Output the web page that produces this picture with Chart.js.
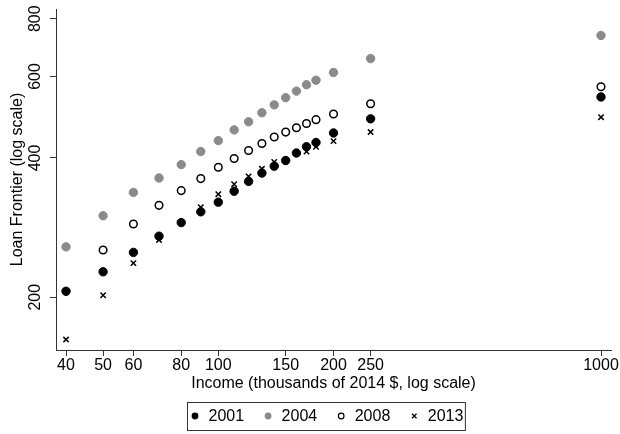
<!DOCTYPE html>
<html>
<head>
<meta charset="utf-8">
<script src="https://cdn.jsdelivr.net/npm/chart.js@4/dist/chart.umd.min.js"></script>
<style>
    html, body { margin: 0; padding: 0; background: #fff; }
    #wrap { width: 620px; height: 434px; }
</style>
</head>
<body>
<div id="wrap"><canvas id="chart" width="620" height="434"></canvas></div>
<script>
// --- DATA ---
const incomes = [40, 50, 60, 70, 80, 90, 100, 110, 120, 130, 140, 150, 160, 170, 180, 200, 250, 1000];
const frontier2001 = [206, 227, 250, 271, 290, 306, 321, 339, 356, 371, 384, 395, 410, 423, 432, 453, 486, 542];
const frontier2004 = [257, 300, 337, 362, 387, 413, 436, 460, 479, 501, 521, 540, 558, 576, 589, 612, 656, 736];
const frontier2008 = [null, 253, 288, 316, 340, 361, 382, 399, 415, 430, 444, 455, 465, 475, 484, 498, 524, 570];
const frontier2013 = [162, 202, 237, 266, 290, 313, 334, 351, 365, 379, 392, 395, 409, 413, 423, 435, 455, 490];
const xTicks = [40, 50, 60, 80, 100, 150, 200, 250, 1000];
const yTicks = [200, 400, 600, 800];

const FONT = "'Liberation Sans', Arial, sans-serif";
const GRAY = '#8a8a8a';
const AXIS = '#333';

function toPoints(ys) {
    return incomes.map((x, i) => ({ x: x, y: ys[i] })).filter(p => p.y !== null);
}

const series = [
    { label: '2001', data: frontier2001, style: 'circle', fill: '#000', stroke: '#000', radius: 4.2, width: 1 },
    { label: '2004', data: frontier2004, style: 'circle', fill: GRAY, stroke: GRAY, radius: 4.2, width: 1 },
    { label: '2008', data: frontier2008, style: 'circle', fill: '#fff', stroke: '#000', radius: 3.8, width: 1.5 },
    { label: '2013', data: frontier2013, style: 'crossRot', fill: '#000', stroke: '#000', radius: 3.8, width: 1.5 }
];

// legend in a bordered box under the x title
const boxedLegend = {
    id: 'boxedLegend',
    afterDraw(chart) {
        const ctx = chart.ctx;
        const cy = 416;
        let x = 195;
        ctx.save();
        ctx.font = '16px ' + FONT;
        ctx.textBaseline = 'middle';
        ctx.fillStyle = '#000';
        let right = x;
        series.forEach(s => {
            const r = 2.8;
            ctx.beginPath();
            if (s.style === 'crossRot') {
                ctx.lineWidth = 1.3;
                ctx.strokeStyle = s.stroke;
                ctx.moveTo(x - r * 0.8, cy - r * 0.8); ctx.lineTo(x + r * 0.8, cy + r * 0.8);
                ctx.moveTo(x + r * 0.8, cy - r * 0.8); ctx.lineTo(x - r * 0.8, cy + r * 0.8);
                ctx.stroke();
            } else {
                ctx.arc(x, cy, r, 0, Math.PI * 2);
                ctx.fillStyle = s.fill;
                ctx.fill();
                ctx.lineWidth = 1.2;
                ctx.strokeStyle = s.stroke;
                ctx.stroke();
            }
            ctx.fillStyle = '#000';
            ctx.fillText(s.label, x + 13.5, cy + 1);
            right = x + 13.5 + ctx.measureText(s.label).width;
            x = right + 24;
        });
        ctx.strokeStyle = AXIS;
        ctx.lineWidth = 1;
        ctx.strokeRect(187.5, 402.5, right + 2 - 187.5, 28);
        ctx.restore();
    }
};

new Chart(document.getElementById('chart'), {
    type: 'scatter',
    data: {
        datasets: series.map(s => ({
            label: s.label,
            data: toPoints(s.data),
            pointStyle: s.style,
            pointRadius: s.radius,
            pointHoverRadius: s.radius,
            pointBackgroundColor: s.fill,
            pointBorderColor: s.stroke,
            pointBorderWidth: s.width,
            showLine: false
        }))
    },
    options: {
        responsive: false,
        animation: false,
        events: [],
        layout: { padding: { top: 9, right: 9, bottom: 41, left: 0 } },
        plugins: { legend: { display: false }, tooltip: { enabled: false } },
        scales: {
            x: {
                type: 'logarithmic',
                min: 37.66,
                max: 1062,
                afterBuildTicks: s => { s.ticks = xTicks.map(v => ({ value: v })); },
                afterFit: s => { s.height = 43; s.paddingLeft = 0; s.paddingRight = 0; s.paddingTop = 0; s.paddingBottom = 0; },
                ticks: {
                    callback: v => String(v),
                    font: { family: FONT, size: 16 },
                    color: '#000',
                    padding: 0,
                    maxRotation: 0,
                    autoSkip: false
                },
                grid: { drawOnChartArea: false, drawTicks: true, tickLength: 6, tickColor: AXIS },
                border: { display: true, color: AXIS, width: 1 },
                title: {
                    display: true,
                    text: 'Income (thousands of 2014 $, log scale)',
                    font: { family: FONT, size: 16 },
                    color: '#000',
                    padding: { top: 0, bottom: 0 }
                }
            },
            y: {
                type: 'logarithmic',
                min: 153.8,
                max: 839.6,
                afterBuildTicks: s => { s.ticks = yTicks.map(v => ({ value: v })); },
                afterFit: s => { s.width = 56; s.paddingLeft = 0; s.paddingRight = 0; s.paddingTop = 0; s.paddingBottom = 0; },
                ticks: {
                    callback: v => String(v),
                    font: { family: FONT, size: 16 },
                    color: '#000',
                    padding: 1,
                    minRotation: 90,
                    maxRotation: 90,
                    crossAlign: 'center',
                    autoSkip: false
                },
                grid: { drawOnChartArea: false, drawTicks: true, tickLength: 6, tickColor: AXIS },
                border: { display: true, color: AXIS, width: 1 },
                title: {
                    display: true,
                    text: 'Loan Frontier (log scale)',
                    font: { family: FONT, size: 16 },
                    color: '#000',
                    padding: { top: 8, bottom: 0 }
                }
            }
        }
    },
    plugins: [boxedLegend]
});
</script>
</body>
</html>
